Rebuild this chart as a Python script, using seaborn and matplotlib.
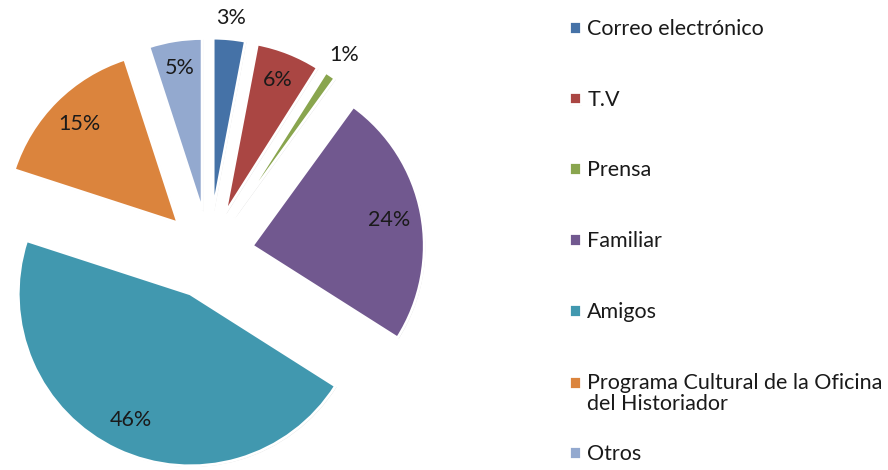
import matplotlib
matplotlib.use("Agg")
import matplotlib.pyplot as plt
import matplotlib.patheffects as pe
import seaborn as sns
import numpy as np

categories = ["Correo electrónico", "T.V", "Prensa", "Familiar", "Amigos",
              "Programa Cultural de la Oficina\ndel Historiador", "Otros"]
values = [3, 6, 1, 24, 46, 15, 5]
pct_labels = ["3%", "6%", "1%", "24%", "46%", "15%", "5%"]
colors = ["#4572A7", "#AA4643", "#89A54E", "#71588F", "#4198AF", "#DB843D", "#93A9CF"]
label_dist = [1.12, 0.83, 1.14, 0.81, 0.81, 0.81, 0.84]

sns.set_theme(style="white")
plt.rcParams['font.family'] = ['Lato', 'DejaVu Sans']
palette = sns.color_palette(colors)

FS = 15.5
fig = plt.figure(figsize=(8.88, 4.70), dpi=100)
ax = fig.add_axes([0, 0, 1, 1])
R = 172.0
cx, cy = 209.0, 470.0 - 254.0
wedges, _ = ax.pie(values, colors=palette, startangle=90, counterclock=False,
                   explode=[0.256] * len(values), radius=1,
                   wedgeprops=dict(edgecolor='white', linewidth=2))
for w in wedges:
    w.set_path_effects([pe.SimplePatchShadow(offset=(0.8, -0.8), shadow_rgbFace='#999999', alpha=0.35),
                        pe.Normal()])
ax.set_xlim(-cx / R, (888 - cx) / R)
ax.set_ylim(-cy / R, (470 - cy) / R)
ax.set_aspect('auto')

for w, lab, d in zip(wedges, pct_labels, label_dist):
    th = np.deg2rad((w.theta1 + w.theta2) / 2)
    x0, y0 = w.center
    ax.text(x0 + d * np.cos(th), y0 + d * np.sin(th), lab, ha='center', va='center',
            fontsize=FS, color='#1a1a1a')

common = dict(frameon=False, fontsize=FS, handlelength=0.55, handleheight=0.55,
              handletextpad=0.3, labelspacing=2.36, borderpad=0, borderaxespad=0)
legA = fig.legend(wedges[:6], categories[:6], loc='upper left',
                  bbox_to_anchor=(569 / 888, 0.960), **common)
legB = fig.legend(wedges[6:], categories[6:], loc='center left',
                  bbox_to_anchor=(569 / 888, 1 - 454 / 470), **common)
for leg in (legA, legB):
    for t in leg.get_texts():
        t.set_color('#1a1a1a')
        t.set_linespacing(1.1)
# align the two-line entry's square with its first line
h = legA.legend_handles[5]
h.set_y(h.get_y() + 8.5)

fig.savefig("out.png", dpi=100)
